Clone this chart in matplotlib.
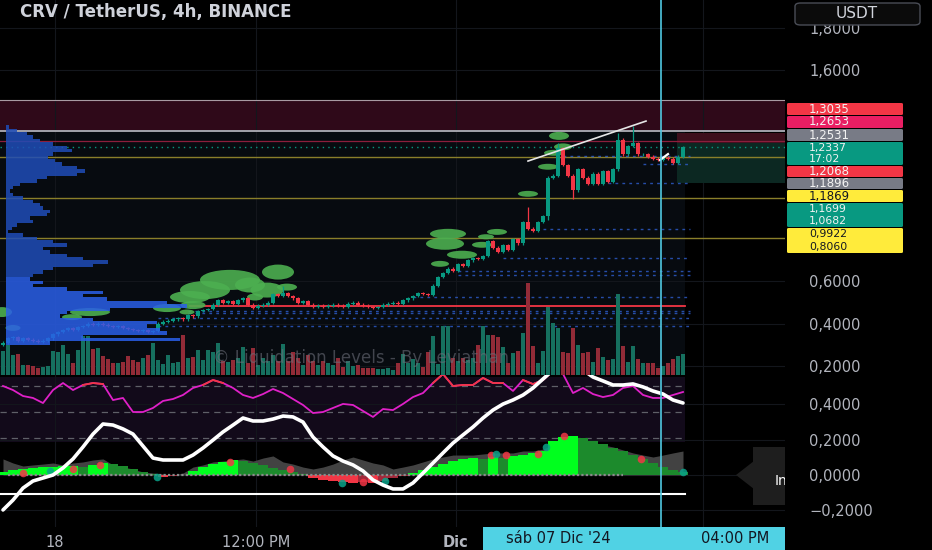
import numpy as np
import matplotlib.pyplot as plt
from matplotlib.patches import Rectangle, Ellipse, Polygon, FancyBboxPatch

plt.rcParams['font.family'] = ['DejaVu Sans']

# ------------------ price data (4h candles) ------------------
first_open = 0.30
closes = [0.31, 0.33, 0.335, 0.32, 0.33, 0.325, 0.32, 0.315, 0.32, 0.33,
          0.35, 0.36, 0.37, 0.38, 0.37, 0.385, 0.39, 0.40, 0.395, 0.40,
          0.395, 0.39, 0.385, 0.39, 0.38, 0.375, 0.37, 0.365, 0.37, 0.36,
          0.365, 0.40, 0.41, 0.415, 0.42, 0.425, 0.42, 0.44, 0.435, 0.46,
          0.465, 0.47, 0.49, 0.51, 0.50, 0.505, 0.495, 0.51, 0.52, 0.49,
          0.475, 0.485, 0.49, 0.50, 0.54, 0.53, 0.545, 0.53, 0.52, 0.50,
          0.505, 0.49, 0.48, 0.485, 0.48, 0.485, 0.49, 0.485, 0.48, 0.495,
          0.50, 0.49, 0.485, 0.48, 0.475, 0.48, 0.49, 0.495, 0.50, 0.495,
          0.51, 0.52, 0.53, 0.545, 0.54, 0.535, 0.58, 0.62, 0.64, 0.66,
          0.65, 0.68, 0.675, 0.70, 0.71, 0.705, 0.72, 0.79, 0.76, 0.74,
          0.77, 0.75, 0.80, 0.78, 0.88, 0.85, 0.84, 0.88, 0.91, 1.09,
          1.10, 1.23, 1.15, 1.10, 1.03, 1.13, 1.09, 1.06, 1.11, 1.06,
          1.12, 1.07, 1.13, 1.27, 1.20, 1.24, 1.255, 1.20, 1.20, 1.19,
          1.18, 1.175, 1.185, 1.18, 1.16, 1.19, 1.2337]
volumes = [24, 30, 20, 21, 10, 10, 9, 7, 8, 9,
           24, 23, 30, 21, 12, 25, 39, 39, 26, 27,
           19, 16, 12, 12, 13, 19, 15, 13, 17, 20,
           32, 15, 11, 20, 12, 13, 40, 17, 18, 25,
           15, 25, 23, 32, 14, 13, 15, 17, 28, 12,
           27, 10, 17, 14, 20, 14, 31, 14, 23, 17,
           10, 20, 14, 10, 14, 12, 10, 17, 8, 14,
           9, 10, 7, 7, 7, 6, 6, 7, 5, 12,
           21, 12, 16, 12, 8, 23, 39, 11, 49, 49,
           17, 14, 17, 15, 17, 30, 49, 40, 40, 38,
           28, 12, 22, 24, 42, 92, 29, 12, 24, 68,
           52, 47, 23, 22, 47, 30, 22, 23, 13, 27,
           18, 15, 16, 81, 29, 13, 29, 16, 12, 12,
           12, 7, 9, 12, 16, 19, 21]
# notable wicks
wick_hi = {56: 0.58, 105: 0.95, 111: 1.255, 123: 1.30, 126: 1.335}
wick_lo = {104: 0.77, 109: 0.89, 114: 0.99}

# volume profile (top -> bottom)
profile_top, profile_bottom = 1.33, 0.309
profile = [3, 11, 21, 27, 34, 47, 61, 66, 47, 42, 49, 56, 71, 79, 71, 41, 31,
           14, 7, 4, 7, 17, 27, 34, 37, 44, 41, 24, 27, 11, 6, 2, 17, 31, 47,
           61, 37, 44, 61, 77, 102, 87, 47, 37, 27, 24, 37, 27, 61, 97, 77,
           101, 161, 181, 104, 61, 54, 87, 151, 141, 154, 161, 77, 174, 44]

# liquidation bubbles: candle index, price, width (candles), height (price)
bub_x = [111.2, 112.0, 110.2, 109.0, 105.0, 96.6, 98.8, 89.0, 88.4, 95.8, 91.8, 87.4,
         40.4, 45.4, 37.4, 55.0, 52.8, 56.8, 50.4, 49.4,
         32.8, 38.0, 17.4, 13.8, -0.2, 2.0, 36.8]
bub_y = [1.288, 1.236, 1.208, 1.142, 1.014, 0.811, 0.834, 0.825, 0.778, 0.773, 0.726, 0.683,
         0.559, 0.607, 0.526, 0.644, 0.559, 0.573, 0.526, 0.583,
         0.474, 0.488, 0.455, 0.431, 0.455, 0.380, 0.455]
bub_w = [4, 3.6, 4, 4, 4, 3.2, 4, 7.2, 7.6, 4, 6, 3.6,
         10, 12, 8, 6.4, 6.6, 4, 3.2, 6,
         5.6, 5, 8, 4, 4, 3, 3]
bub_h = [0.038, 0.033, 0.028, 0.028, 0.028, 0.024, 0.028, 0.047, 0.057, 0.028, 0.038, 0.028,
         0.085, 0.095, 0.057, 0.071, 0.071, 0.033, 0.033, 0.071,
         0.038, 0.038, 0.038, 0.028, 0.047, 0.028, 0.024]

# liquidation levels (blue dashed) and their start candle
lvl_price = [1.193, 1.155, 1.065, 0.848, 0.711, 0.649, 0.630, 0.526, 0.460, 0.451, 0.427, 0.389]
lvl_start = [112, 128, 121, 108, 100, 91, 91, 82, 37, 37, 31, 31]
olive_levels = [1.1869, 0.9922, 0.8060]

# ------------------ lower pane (sampled every 2 candles) ------------------
rsi = [70.0, 66.9, 62.3, 60.8, 56.9, 66.9, 72.3, 66.9, 70.8, 72.3,
       71.5, 59.2, 60.8, 50.0, 50.0, 53.1, 58.5, 60.0, 63.1, 68.5,
       70.8, 74.6, 72.3, 68.5, 63.1, 60.8, 63.8, 67.7, 64.6, 60.0,
       55.4, 49.2, 50.0, 53.1, 56.2, 55.4, 50.8, 46.2, 52.3, 51.5,
       56.2, 61.5, 64.6, 72.3, 79.2, 70.0, 70.8, 70.8, 76.2, 72.3,
       72.3, 66.2, 74.6, 71.5, 74.6, 81.5, 79.2, 64.6, 68.5, 63.8,
       61.5, 63.1, 68.5, 70.0, 63.1, 60.8, 60.8, 63.1, 65.4]
osc = [-0.198, -0.142, -0.074, -0.034, -0.017, 0.0, 0.040, 0.091, 0.159, 0.232,
       0.289, 0.283, 0.261, 0.232, 0.164, 0.096, 0.085, 0.085, 0.085, 0.113,
       0.153, 0.198, 0.244, 0.283, 0.323, 0.306, 0.306, 0.317, 0.334, 0.329,
       0.300, 0.215, 0.159, 0.108, 0.079, 0.057, 0.023, -0.028, -0.057, -0.079,
       -0.079, -0.045, 0.011, 0.068, 0.125, 0.181, 0.227, 0.272, 0.323, 0.368,
       0.402, 0.425, 0.453, 0.493, 0.544, 0.595, 0.640, 0.640, 0.595, 0.555,
       0.533, 0.510, 0.510, 0.516, 0.499, 0.476, 0.459, 0.425, 0.408]
hist = [0.017, 0.028, 0.034, 0.040, 0.045, 0.045, 0.051, 0.051, 0.045, 0.057,
        0.068, 0.062, 0.051, 0.034, 0.017, 0.006, -0.011, -0.006, 0.0, 0.023,
        0.045, 0.062, 0.074, 0.085, 0.079, 0.068, 0.057, 0.040, 0.028, 0.017,
        0.006, -0.017, -0.028, -0.034, -0.040, -0.045, -0.040, -0.045, -0.034, -0.017,
        -0.006, 0.011, 0.028, 0.045, 0.062, 0.079, 0.091, 0.096, 0.091, 0.102,
        0.096, 0.108, 0.113, 0.125, 0.136, 0.193, 0.215, 0.221, 0.210, 0.193,
        0.176, 0.153, 0.136, 0.113, 0.091, 0.068, 0.045, 0.028, 0.017]
grey_area = [0.091, 0.068, 0.051, 0.057, 0.062, 0.068, 0.057, 0.068, 0.074, 0.085,
             0.091, 0.057, 0.045, 0.034, 0.017, 0.011, 0.006, 0.0, 0.011, 0.045,
             0.057, 0.074, 0.079, 0.085, 0.091, 0.079, 0.096, 0.108, 0.074, 0.062,
             0.045, 0.034, 0.045, 0.062, 0.085, 0.102, 0.085, 0.068, 0.057, 0.034,
             0.045, 0.057, 0.074, 0.091, 0.102, 0.113, 0.113, 0.113, 0.119, 0.125,
             0.125, 0.125, 0.136, 0.136, 0.147, 0.170, 0.198, 0.204, 0.198, 0.187,
             0.170, 0.159, 0.142, 0.125, 0.113, 0.102, 0.113, 0.125, 0.136]
red_dot_x = [4.0, 14.0, 19.4, 45.4, 57.4, 72.0, 97.6, 100.6, 107.0, 112.2, 127.6]
red_dot_v = [0.011, 0.034, 0.057, 0.074, 0.034, -0.040, 0.113, 0.113, 0.119, 0.221, 0.091]
teal_dot_x = [9.4, 30.8, 67.8, 76.4, 98.6, 108.6, 136.0]
teal_dot_v = [0.023, -0.011, -0.045, -0.034, 0.119, 0.159, 0.017]
osc_zero_line = -0.107

# price tags on the right axis
tag_text = [["1,3035"], ["1,2653"], ["1,2531"], ["1,2337", "17:02"], ["1,2068"],
            ["1,1896"], ["1,1869"], ["1,1699", "1,0682"], ["0,9922", "0,8060"]]
tag_bg = ['#f23645', '#e91e63', '#787b86', '#089981', '#f23645',
          '#787b86', '#ffeb3b', '#089981', '#ffeb3b']
tag_rows = [(103, 115), (116, 128), (129, 141), (142, 165), (166, 177),
            (178, 189), (190, 202), (203, 227), (228, 253)]

# ------------------ figure ------------------
W, H = 932, 550
fig = plt.figure(figsize=(W / 100, H / 100), dpi=100, facecolor='black')


def fx(px):
    return px / W


def fy(py):
    return 1 - py / H


ax = fig.add_axes([0, fy(375), fx(785), 375 / H], facecolor='black')
axl = fig.add_axes([0, fy(527), fx(785), 152 / H], facecolor='black')

XMIN, XMAX = -0.6, 156.4
LAST = 136.4
TXT = '#b2b5be'
GRID = '#13161c'

closes = np.array(closes)
opens = np.r_[first_open, closes[:-1]]
x = np.arange(len(closes))
highs = np.maximum(opens, closes) + 0.006
lows = np.minimum(opens, closes) - 0.006
for k, val in wick_hi.items():
    highs[k] = val
for k, val in wick_lo.items():
    lows[k] = val
up = closes >= opens
ccol = np.where(up, '#089981', '#f23645')
vcol = np.where(up, '#16705f', '#922b37')

# backgrounds / zones
ax.add_patch(Rectangle((XMIN, 0.1), LAST - XMIN, 1.311 - 0.1, color='#070b10', zorder=0.3, lw=0))
ax.add_patch(Rectangle((XMIN, 1.311), XMAX - XMIN, 1.4577 - 1.311, color='#2f0919', zorder=0.4, lw=0))
ax.axhline(1.4577, color='#a89aa2', lw=0.8, zorder=1)
ax.axhline(1.311, color='#a3a3ab', lw=1.4, zorder=1)
# position tool
ax.add_patch(Rectangle((134.8, 1.254), XMAX - 134.8, 1.302 - 1.254, color='#3d0f1c', zorder=0.8, lw=0))
ax.add_patch(Rectangle((134.8, 1.065), XMAX - 134.8, 1.254 - 1.065, color='#0c2822', zorder=0.8, lw=0))

ax.axhline(1.2653, color='#8c1e3c', lw=0.9, zorder=1)
ax.axhline(1.2337, color='#089981', lw=1.0, ls=(0, (1, 3)), zorder=1)
for lv in olive_levels:
    ax.axhline(lv, color='#8a7f2a', lw=1.0, zorder=1)
for lv, st in zip(lvl_price, lvl_start):
    ax.plot([st, LAST + 1], [lv, lv], color='#2f5fd0', lw=1.0, ls=(0, (2, 3)), alpha=0.8, zorder=1)
ax.plot([37.4, LAST], [0.484, 0.484], color='#f23645', lw=1.3, zorder=1.1)

# volume bars (bottom of the price pane)
vol_top = max(volumes) * 375 / 92
ax.bar(x, np.array(volumes) / vol_top, width=0.7, bottom=0, color=vcol,
       transform=ax.get_xaxis_transform(), zorder=1.2, lw=0)

ax.text(42, 0.238, '© Liquidation Levels - By Leviathan', color='#6a6d78', alpha=0.6,
        fontsize=12, va='center', zorder=1.3)

for bx, by, bw, bh in zip(bub_x, bub_y, bub_w, bub_h):
    ax.add_patch(Ellipse((bx, by), bw, bh, fc='#4caf50', ec='none', alpha=0.9, zorder=1.5))

# candles
ax.vlines(x, lows, highs, colors=ccol, lw=0.9, zorder=2)
ax.bar(x, np.maximum(np.abs(closes - opens), 0.003), bottom=np.minimum(opens, closes),
       width=0.75, color=ccol, zorder=2.1, lw=0)

# volume profile
centers = np.linspace(profile_top, profile_bottom, len(profile))
step = centers[0] - centers[1]
pcol = ['#2a5fe8' if c < 0.62 else '#1f4db8' for c in centers]
ax.barh(centers, np.array(profile) / 5, height=step, left=0.6, color=pcol,
        alpha=0.85, zorder=2.5, lw=0)

# drawings
ax.plot([105, 128.6], [1.169, 1.358], color='#e6e6e6', lw=1.2, zorder=3)
ax.plot([131.4, 133], [1.174, 1.202], color='white', lw=1.6, zorder=3)

ax.set_xlim(XMIN, XMAX)
ax.set_ylim(0.1574, 1.9305)
ax.set_yticks([0.2, 0.4, 0.6, 1.6, 1.8])
ax.set_yticklabels(['0,2000', '0,4000', '0,6000', '1,6000', '1,8000'])

# ------------------ lower pane ------------------
def rsi_v(r):
    return (63 + (np.asarray(r) - 50) * 1.3) / 176.5


xs2 = np.arange(0, 2 * len(hist), 2)
hist = np.array(hist)
axl.add_patch(Rectangle((XMIN, rsi_v(27)), LAST - XMIN, rsi_v(77) - rsi_v(27),
                        color='#120a1a', zorder=0.4, lw=0))
for lvl in (70, 50, 30):
    axl.plot([XMIN, LAST], [rsi_v(lvl)] * 2, color='#5f6068', lw=0.9, ls=(0, (5, 4)), zorder=0.6)

axl.fill_between(xs2, 0, grey_area, color='#4a4a4a', alpha=0.9, lw=0, zorder=1.0)
rising = np.r_[True, np.abs(hist[1:]) >= np.abs(hist[:-1])]
hcol = []
for hv, r in zip(hist, rising):
    if hv >= 0:
        hcol.append('#00ff1e' if r else '#1c8a2c')
    else:
        hcol.append('#f23645' if r else '#a3283a')
axl.bar(xs2, hist, width=2.0, color=hcol, lw=0, zorder=1.2)
axl.plot([1, 124], [0, 0], color='#8a8a8a', lw=1.6, ls=(0, (1, 1)), zorder=1.3)
axl.scatter(red_dot_x, red_dot_v, s=30, color='#f23645', alpha=0.85, zorder=1.5, lw=0)
axl.scatter(teal_dot_x, teal_dot_v, s=30, color='#0aa38a', alpha=0.85, zorder=1.5, lw=0)

rsi = np.array(rsi)
axl.plot(xs2, rsi_v(rsi), color='#e020c8', lw=1.3, zorder=2)
axl.plot(xs2, np.ma.masked_where(rsi < 70, rsi_v(rsi)), color='#f23645', lw=1.3, zorder=2.1)

axl.plot([XMIN, LAST], [osc_zero_line] * 2, color='white', lw=1.5, zorder=2)
axl.plot(xs2, osc, color='white', lw=2.6, zorder=3, solid_capstyle='round')

# tooltip stub
axl.add_patch(Rectangle((150.0, -0.17), XMAX - 150.0, 0.33, color='#1e1e1e', zorder=4, lw=0))
axl.add_patch(Polygon([(146.6, 0.0), (150.0, 0.075), (150.0, -0.075)], color='#1e1e1e', zorder=4, lw=0))
axl.text(0.987, 0.305, 'In', transform=axl.transAxes, color='white', fontsize=10,
         va='center', zorder=5, clip_on=True)

axl.set_xlim(XMIN, XMAX)
axl.set_ylim(-0.2946, 0.5666)
axl.set_yticks([-0.2, 0.0, 0.2, 0.4])
axl.set_yticklabels(['\u22120,2000', '0,0000', '0,2000', '0,4000'])

xt = [10.4, 50.6, 90.6, 140]
for a in (ax, axl):
    a.set_xticks(xt)
    a.yaxis.tick_right()
    a.tick_params(axis='y', length=0, pad=17.3, labelsize=10.5, labelcolor=TXT)
    a.tick_params(axis='x', length=0)
    a.grid(True, color=GRID, lw=0.8)
    a.set_axisbelow(True)
    for s in a.spines.values():
        s.set_visible(False)
ax.tick_params(axis='x', labelbottom=False)
axl.set_xticklabels(['18', '12:00 PM', 'Dic', ''])
axl.tick_params(axis='x', pad=6, labelsize=10.5, labelcolor=TXT)
axl.get_xticklabels()[2].set_fontweight('bold')

# ------------------ overlays in pixel layout ------------------
fig.add_artist(plt.Line2D([fx(661), fx(661)], [fy(0), fy(527)], color='#50c8e1', lw=1.2, zorder=6))

for lines, bg, (t, b) in zip(tag_text, tag_bg, tag_rows):
    fig.add_artist(FancyBboxPatch((fx(787), fy(b)), fx(116), (b - t) / H,
                                  boxstyle='round,pad=0,rounding_size=0.002',
                                  fc=bg, ec='none', zorder=7))
    tc = '#131722' if bg == '#ffeb3b' else '#f2f2f2'
    n = len(lines)
    fs = 8.5 if n == 1 else 7.8
    for j, s in enumerate(lines):
        yc = t + (b - t) * (j + 0.5) / n
        fig.text(fx(809), fy(yc), s, color=tc, fontsize=fs, va='center', ha='left', zorder=8)

fig.add_artist(FancyBboxPatch((fx(795), fy(25)), fx(125), 22 / H,
                              boxstyle='round,pad=0,rounding_size=0.006',
                              fc='#0b0b0b', ec='#4a4d56', lw=1, zorder=7))
fig.text(fx(857), fy(14), 'USDT', color='#d1d4dc', fontsize=11, ha='center', va='center', zorder=8)

fig.text(fx(20), fy(12), 'CRV / TetherUS, 4h, BINANCE', color='#cfd2da', fontsize=12,
         fontweight='bold', va='center', zorder=8)

date_box = Rectangle((fx(483), fy(550)), fx(302), 23 / H, transform=fig.transFigure,
                     fc='#50d2e4', ec='none', zorder=7)
fig.add_artist(date_box)
fig.text(fx(506), fy(538.5), "sáb 07 Dic '24", color='#131722', fontsize=10.5, va='center', zorder=8)
t = fig.text(fx(701), fy(538.5), '04:00 PM', color='#131722', fontsize=10.5, va='center', zorder=8)
t.set_clip_path(date_box)

fig.savefig('out.png', dpi=100, facecolor='black')
